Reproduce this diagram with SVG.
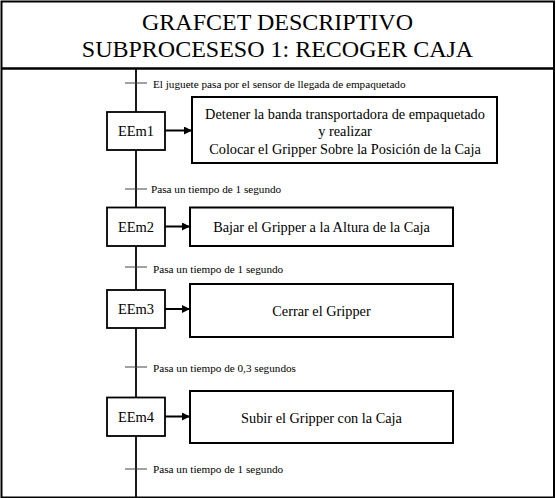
<svg xmlns="http://www.w3.org/2000/svg" width="556" height="498" viewBox="0 0 556 498">
<defs>
<style>
.t{font-family:"Liberation Serif","Times New Roman",serif;fill:#000}
.title{font-size:24px;text-anchor:middle}
.step{font-size:14.5px;text-anchor:middle}
.act{font-size:14.3px;text-anchor:middle}
.tr{font-size:11.2px}
.sbox{fill:#fff;stroke:#000;stroke-width:1.8}
.abox{fill:#fff;stroke:#000;stroke-width:2}
.bar{stroke:#444;stroke-width:1}
.link{stroke:#000;stroke-width:1.8;fill:none}
.arr{stroke:#000;stroke-width:2;fill:none;marker-end:url(#ah)}
</style>
<marker id="ah" viewBox="0 0 8 8" refX="7" refY="4" markerWidth="4" markerHeight="4" orient="auto" markerUnits="strokeWidth">
<path d="M0,0 L8,4 L0,8 z" fill="#000"/>
</marker>
</defs>
<rect x="0" y="0" width="556" height="498" fill="#fff"/>
<g id="frame">
<rect x="1.5" y="1.5" width="552.5" height="496" fill="none" stroke="#000" stroke-width="2"/>
<line x1="1" y1="68.5" x2="555" y2="68.5" stroke="#000" stroke-width="2.5"/>
<text class="t title" x="277.5" y="30">GRAFCET DESCRIPTIVO</text>
<text class="t title" x="277.5" y="57">SUBPROCESESO 1: RECOGER CAJA</text>
</g>
<g id="connectors">
<line class="link" x1="136" y1="69" x2="136" y2="497"/>
<line class="bar" x1="125" y1="83" x2="147" y2="83"/>
<line class="bar" x1="125" y1="189" x2="147" y2="189"/>
<line class="bar" x1="125" y1="267" x2="147" y2="267"/>
<line class="bar" x1="125" y1="367" x2="147" y2="367"/>
<line class="bar" x1="125" y1="469" x2="147" y2="469"/>
<line class="arr" x1="165" y1="130.5" x2="191" y2="130.5"/>
<line class="arr" x1="165" y1="226.5" x2="189" y2="226.5"/>
<line class="arr" x1="165" y1="309" x2="189" y2="309"/>
<line class="arr" x1="165" y1="416.5" x2="189" y2="416.5"/>
<text class="t tr" x="153" y="87.5">El juguete pasa por el sensor de llegada de empaquetado</text>
<text class="t tr" x="151" y="192.5">Pasa un tiempo de 1 segundo</text>
<text class="t tr" x="153" y="272.5">Pasa un tiempo de 1 segundo</text>
<text class="t tr" x="153" y="371.5">Pasa un tiempo de 0,3 segundos</text>
<text class="t tr" x="153" y="473">Pasa un tiempo de 1 segundo</text>
</g>
<g id="EEm1">
<rect class="sbox" x="107" y="112" width="58" height="38"/>
<text class="t step" x="136" y="136">EEm1</text>
</g>
<g id="A1">
<rect class="abox" x="192" y="97" width="305" height="66"/>
<text class="t act" x="345" y="118.5">Detener la banda transportadora de empaquetado</text>
<text class="t act" x="345" y="136">y realizar</text>
<text class="t act" x="345" y="153.5">Colocar el Gripper Sobre la Posición de la Caja</text>
</g>
<g id="EEm2">
<rect class="sbox" x="107" y="207.5" width="58" height="38.5"/>
<text class="t step" x="136" y="231.5">EEm2</text>
</g>
<g id="A2">
<rect class="abox" x="190" y="207.5" width="263" height="38.5"/>
<text class="t act" x="321.5" y="231.5">Bajar el Gripper a la Altura de la Caja</text>
</g>
<g id="EEm3">
<rect class="sbox" x="107" y="290" width="58" height="38"/>
<text class="t step" x="136" y="314">EEm3</text>
</g>
<g id="A3">
<rect class="abox" x="190" y="284" width="263" height="53"/>
<text class="t act" x="321.5" y="316">Cerrar el Gripper</text>
</g>
<g id="EEm4">
<rect class="sbox" x="107" y="397.5" width="58" height="38.5"/>
<text class="t step" x="136" y="421.5">EEm4</text>
</g>
<g id="A4">
<rect class="abox" x="190" y="391" width="263" height="52"/>
<text class="t act" x="321.5" y="422.5">Subir el Gripper con la Caja</text>
</g>
</svg>
